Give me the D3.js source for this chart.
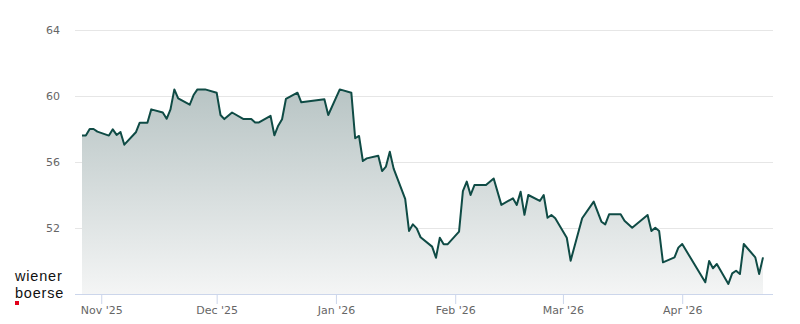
<!DOCTYPE html>
<html>
<head>
<meta charset="utf-8">
<script src="https://cdn.jsdelivr.net/npm/d3@7"></script>
<style>
  html, body { margin: 0; padding: 0; background: #fff; }
  svg { display: block; }
  .tick text { font-family: "DejaVu Sans", sans-serif; font-size: 11px; fill: #666; }
</style>
</head>
<body>
<svg id="chart" width="800" height="324"></svg>
<script>
// trading days
const dates = [
  "2025-10-27","2025-10-28","2025-10-29","2025-10-30","2025-10-31",
  "2025-11-03","2025-11-04","2025-11-05","2025-11-06","2025-11-07",
  "2025-11-10","2025-11-11","2025-11-13","2025-11-14","2025-11-17",
  "2025-11-18","2025-11-19","2025-11-20","2025-11-21","2025-11-24",
  "2025-11-25","2025-11-26","2025-11-28","2025-12-01","2025-12-02",
  "2025-12-03","2025-12-05","2025-12-08","2025-12-10","2025-12-11",
  "2025-12-12","2025-12-15","2025-12-16","2025-12-17","2025-12-18",
  "2025-12-19","2025-12-22","2025-12-23","2025-12-29","2025-12-30",
  "2026-01-02","2026-01-05","2026-01-06","2026-01-07","2026-01-08",
  "2026-01-09","2026-01-12","2026-01-13","2026-01-14","2026-01-15",
  "2026-01-16","2026-01-19","2026-01-20","2026-01-21","2026-01-22",
  "2026-01-23","2026-01-26","2026-01-27","2026-01-28","2026-01-29",
  "2026-01-30","2026-02-02","2026-02-03","2026-02-04","2026-02-05",
  "2026-02-06","2026-02-09","2026-02-11","2026-02-13","2026-02-16",
  "2026-02-17","2026-02-18","2026-02-19","2026-02-20","2026-02-23",
  "2026-02-24","2026-02-25","2026-02-26","2026-02-27","2026-03-02",
  "2026-03-03","2026-03-06","2026-03-09","2026-03-11","2026-03-12",
  "2026-03-13","2026-03-16","2026-03-17","2026-03-19","2026-03-23",
  "2026-03-24","2026-03-25","2026-03-26","2026-03-27","2026-03-30",
  "2026-03-31","2026-04-01","2026-04-07","2026-04-08","2026-04-09",
  "2026-04-10","2026-04-13","2026-04-14","2026-04-15","2026-04-16",
  "2026-04-17","2026-04-20","2026-04-21","2026-04-22"
];
const prices = [
  57.6, 57.6, 58.0, 58.0, 57.84,
  57.6, 57.98, 57.64, 57.82, 57.05,
  57.8, 58.38, 58.38, 59.19, 59.0,
  58.62, 59.19, 60.4, 59.86, 59.47,
  60.06, 60.4, 60.4, 60.2, 58.85,
  58.6, 59.0, 58.6, 58.6, 58.4,
  58.4, 58.8, 57.62, 58.2, 58.59,
  59.82, 60.2, 59.62, 59.8, 58.85,
  60.4, 60.2, 57.44, 57.58, 56.06,
  56.22, 56.38, 55.45, 55.72, 56.62,
  55.6, 53.76, 51.82, 52.22, 51.98,
  51.44, 50.87, 50.2, 51.41, 51.01,
  51.01, 51.78, 54.24, 54.81, 54.0,
  54.6, 54.6, 55.0, 53.4, 53.8,
  53.4, 54.2, 52.8, 54.0, 53.64,
  54.0, 52.62, 52.79, 52.59, 51.41,
  50.02, 52.59, 53.6, 52.38, 52.22,
  52.83, 52.83, 52.44, 52.02, 52.79,
  51.82, 52.02, 51.82, 49.92, 50.22,
  50.81, 51.03, 48.71, 50.0, 49.56,
  49.82, 48.61, 49.25, 49.41, 49.21,
  51.03, 50.22, 49.21, 50.22
];
const yTicks = [52, 56, 60, 64];
const monthTicks = ["2025-11-01","2025-12-01","2026-01-01","2026-02-01","2026-03-01","2026-04-01"];

const parse = d3.timeParse("%Y-%m-%d");
const data = dates.map((d, i) => ({ date: parse(d), value: prices[i] }));

const svg = d3.select("#chart");
const plotLeft = 75, plotRight = 773, plotTop = 30, plotBottom = 294;

const x = d3.scaleTime()
  .domain(d3.extent(data, d => d.date))
  .range([82, 763]);
const y = d3.scaleLinear()
  .domain([48, 64])
  .range([plotBottom, plotTop]);

// gradient fill under the line
const defs = svg.append("defs");
const grad = defs.append("linearGradient")
  .attr("id", "areaFill")
  .attr("gradientUnits", "userSpaceOnUse")
  .attr("x1", 0).attr("x2", 0)
  .attr("y1", y(61)).attr("y2", plotBottom);
grad.append("stop").attr("offset", 0).attr("stop-color", "#b5c2c2");
grad.append("stop").attr("offset", 1).attr("stop-color", "#f4f5f5");

// horizontal grid + y labels
svg.append("g")
  .attr("transform", `translate(${plotLeft},0)`)
  .call(d3.axisLeft(y).tickValues(yTicks).tickSize(-(plotRight - plotLeft)).tickPadding(15))
  .call(g => g.select(".domain").remove())
  .call(g => g.selectAll(".tick line").attr("stroke", "#e6e6e6"))
  .call(g => g.selectAll(".tick text").attr("dy", "0.32em"));

const area = d3.area()
  .x(d => x(d.date))
  .y0(plotBottom)
  .y1(d => y(d.value));
const line = d3.line()
  .x(d => x(d.date))
  .y(d => y(d.value));

svg.append("path")
  .datum(data)
  .attr("fill", "url(#areaFill)")
  .attr("d", area);

svg.append("path")
  .datum(data)
  .attr("fill", "none")
  .attr("stroke", "#0f4b45")
  .attr("stroke-width", 2)
  .attr("stroke-linejoin", "round")
  .attr("d", line);

// x axis
svg.append("g")
  .attr("transform", `translate(0,${plotBottom})`)
  .call(d3.axisBottom(x)
    .tickValues(monthTicks.map(parse))
    .tickSize(10)
    .tickPadding(2)
    .tickFormat(d3.timeFormat("%b '%y")))
  .call(g => g.select(".domain").remove())
  .call(g => g.selectAll(".tick line").attr("stroke", "#ccd6eb"));

svg.append("line")
  .attr("x1", plotLeft).attr("x2", plotRight)
  .attr("y1", plotBottom + 0.5).attr("y2", plotBottom + 0.5)
  .attr("stroke", "#ccd6eb");

// wiener boerse logo
const logo = svg.append("g")
  .attr("font-family", "Liberation Sans, Arial, sans-serif")
  .attr("font-size", 14.5)
  .attr("letter-spacing", 0.8)
  .attr("fill", "#111");
logo.append("text").attr("x", 15).attr("y", 281).text("wiener");
logo.append("text").attr("x", 15).attr("y", 298).text("boerse");
svg.append("rect")
  .attr("x", 15).attr("y", 301)
  .attr("width", 4).attr("height", 4)
  .attr("fill", "#e2001a");
</script>
</body>
</html>
